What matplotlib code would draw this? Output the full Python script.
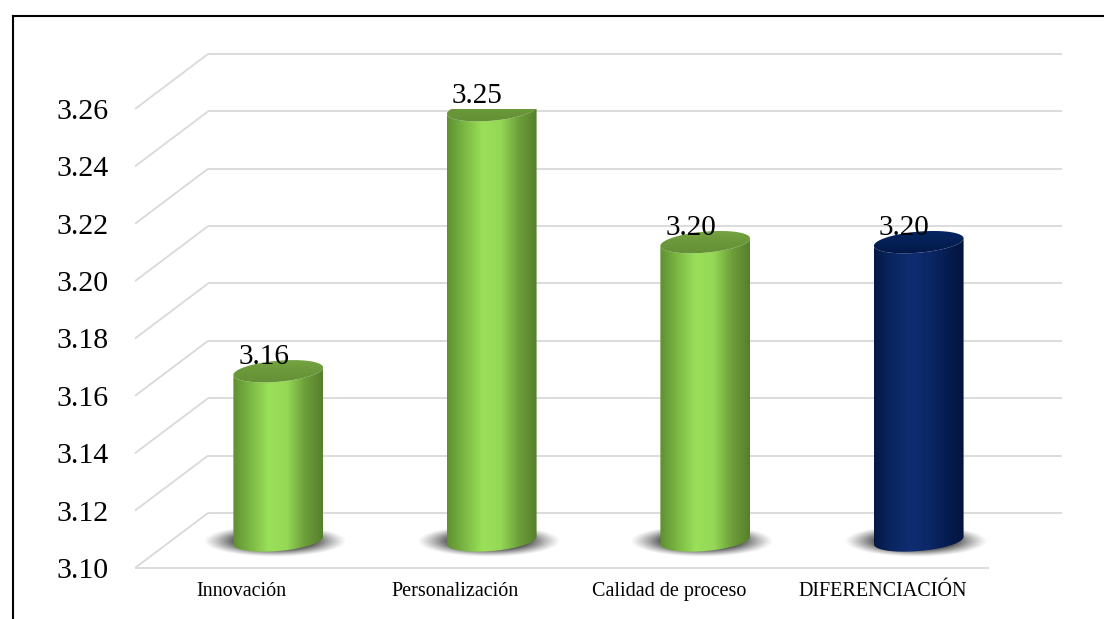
import numpy as np
import matplotlib
matplotlib.use("Agg")
import matplotlib.pyplot as plt
from matplotlib.colors import LinearSegmentedColormap
from matplotlib.patches import Polygon
from matplotlib.lines import Line2D

categories = ["Innovación", "Personalización", "Calidad de proceso", "DIFERENCIACIÓN"]
values = [3.159, 3.250, 3.204, 3.204]
y_ticks = [3.10, 3.12, 3.14, 3.16, 3.18, 3.20, 3.22, 3.24, 3.26]
y_min, y_max = 3.10, 3.26

green_side = ["#5f8f31", "#7cba45", "#9be05a", "#94d856", "#6d9f3a", "#567f2c"]
green_top = ["#648f36", "#6b983a", "#78a844"]
blue_side = ["#041845", "#0a2660", "#0f2d72", "#0b2868", "#061d52", "#03143d"]
blue_top = ["#021845", "#042056", "#062663"]
bar_styles = ["green", "green", "green", "blue"]

W, H = 1104, 619
fig = plt.figure(figsize=(W / 100, H / 100), dpi=100)
ax_px = (135, 568, 854, 459)  # left, floor, width, height in pixels
ax = fig.add_axes([ax_px[0] / W, (H - ax_px[1]) / H, ax_px[2] / W, ax_px[3] / H])
ax.set_xlim(-0.5, len(categories) - 0.5)
ax.set_ylim(y_min, y_max)

# pixel -> data unit factors
kx = len(categories) / ax_px[2]
ky = (y_max - y_min) / ax_px[3]

depth_x, depth_y = 73 * kx, 55 * ky
grid_kw = dict(color="#d9d9d9", lw=1.3, zorder=1, clip_on=False, solid_capstyle="butt")
x0, x1 = -0.5, len(categories) - 0.5
for t in y_ticks:
    ax.plot([x0, x0 + depth_x], [t, t + depth_y], **grid_kw)
    ax.plot([x0 + depth_x, x1 + depth_x], [t + depth_y, t + depth_y], **grid_kw)
ax.plot([x0, x1], [y_min, y_min], **grid_kw)


def ellipse_pts(xc, yc, a, b, th, t):
    ex = a * np.cos(t) * np.cos(th) - b * np.sin(t) * np.sin(th)
    ey = a * np.cos(t) * np.sin(th) + b * np.sin(t) * np.cos(th)
    return np.column_stack([xc + ex * kx, yc + ey * ky])


a_px, b_px, rot = 45, 10.5, np.deg2rad(5)
t0 = np.arctan2(-b_px * np.sin(rot), a_px * np.cos(rot))
front = np.linspace(t0 + np.pi, t0 + 2 * np.pi, 80)
full = np.linspace(0, 2 * np.pi, 160)

# shadow texture: soft grey ellipse
gx = np.linspace(-1, 1, 200)
gy = np.linspace(-1, 1, 80)
GX, GY = np.meshgrid(gx, gy)
r = np.sqrt(GX ** 2 + GY ** 2)
shadow = np.zeros(GX.shape + (4,))
shadow[..., :3] = 0.15
shadow[..., 3] = 0.9 * np.clip((1 - r) / 0.5, 0, 1) ** 1.2

for i, (v, style) in enumerate(zip(values, bar_styles)):
    xc = i + depth_x / 2
    yb = y_min + depth_y / 2
    yt = v + depth_y / 2
    side = LinearSegmentedColormap.from_list("s", green_side if style == "green" else blue_side)
    topc = LinearSegmentedColormap.from_list("t", green_top if style == "green" else blue_top)

    sw, sh = 72, 16
    scx, scy = xc - 3 * kx, yb - 1 * ky
    sim = ax.imshow(shadow, extent=[scx - sw * kx, scx + sw * kx, scy - sh * ky, scy + sh * ky],
                    aspect="auto", zorder=2, interpolation="bilinear")
    sim.set_clip_on(False)

    # cylinder body
    bottom_arc = ellipse_pts(xc, yb, a_px, b_px, rot, front)
    top_arc = ellipse_pts(xc, yt, a_px, b_px, rot, front)[::-1]
    body = Polygon(np.vstack([bottom_arc, top_arc]), closed=True, fc="none", ec="none", zorder=3)
    ax.add_patch(body)
    grad = np.linspace(0, 1, 256).reshape(1, -1)
    im = ax.imshow(grad, cmap=side, extent=[xc - a_px * kx, xc + a_px * kx, yb - 14 * ky, yt + 14 * ky],
                   aspect="auto", zorder=3, interpolation="bilinear")
    im.set_clip_path(body)

    # top cap
    cap = Polygon(ellipse_pts(xc, yt, a_px, b_px, rot, full), closed=True, fc="none", ec="none", zorder=4)
    ax.add_patch(cap)
    vgrad = np.linspace(1, 0, 64).reshape(-1, 1)
    im2 = ax.imshow(vgrad, cmap=topc, extent=[xc - a_px * kx, xc + a_px * kx, yt - 14 * ky, yt + 14 * ky],
                    aspect="auto", zorder=4, interpolation="bilinear")
    im2.set_clip_path(cap)

    ax.annotate("%.2f" % v, (xc, yt), xytext=(-10.5, 5.5), textcoords="offset points",
                ha="center", va="baseline", fontsize=21, family="Liberation Serif", zorder=6)

ax.set_xlim(-0.5, len(categories) - 0.5)
ax.set_ylim(y_min, y_max)
ax.set_xticks(range(len(categories)))
ax.set_xticklabels(categories, family="Liberation Serif", fontsize=14.5)
ax.set_yticks(y_ticks)
ax.set_yticklabels(["%.2f" % t for t in y_ticks], family="Liberation Serif", fontsize=21.5)
ax.tick_params(axis="x", length=0, pad=10)
ax.tick_params(axis="y", length=0, pad=19)
for s in ax.spines.values():
    s.set_visible(False)
ax.patch.set_visible(False)

# outer frame (top and left edges)
fig.add_artist(Line2D([12.5 / W, 1], [1 - 15.5 / H, 1 - 15.5 / H], color="black", lw=1.5,
                      transform=fig.transFigure))
fig.add_artist(Line2D([12.5 / W, 12.5 / W], [0, 1 - 15.5 / H], color="black", lw=1.5,
                      transform=fig.transFigure))

fig.savefig("out.png", dpi=100)
